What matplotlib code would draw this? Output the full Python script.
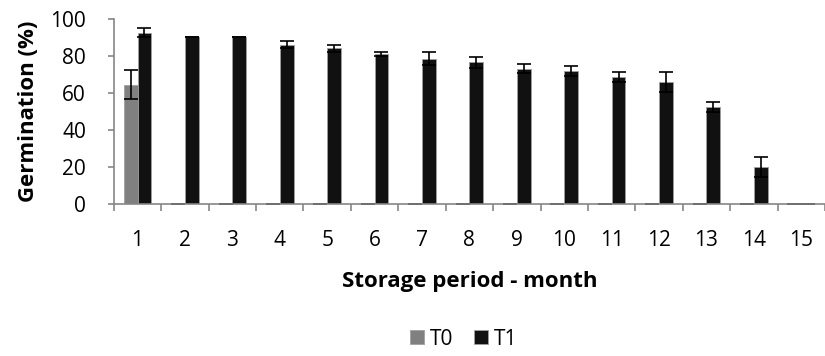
import matplotlib
matplotlib.use("Agg")
import matplotlib.pyplot as plt
import numpy as np

months = [str(i) for i in range(1, 16)]
t0_vals = [64.5, 0, 0, 0, 0, 0, 0, 0, 0, 0, 0, 0, 0, 0, 0]
t0_err = [8, 0, 0, 0, 0, 0, 0, 0, 0, 0, 0, 0, 0, 0, 0]
t1_vals = [92.5, 90, 90, 86, 84, 81, 78.5, 76.5, 73, 72, 68.5, 66, 52.5, 20, 0]
t1_err = [2.5, 0, 0, 2, 2, 1.3, 3.5, 3, 2.5, 2.8, 2.8, 5.5, 2.8, 5.5, 0]
series_names = ["T0", "T1"]
yticks = [0, 20, 40, 60, 80, 100]

plt.rcParams['font.family'] = ['Open Sans', 'DejaVu Sans']

fig = plt.figure(figsize=(8.25, 3.56), dpi=100)
ax = fig.add_axes([0.138, 0.427, 0.862, 0.52])

x = np.arange(len(months))
w = 0.29
axis_col = '#868686'
ax.bar(x - w/2, t0_vals, w, color='#808080', edgecolor='#a0a0a0', linewidth=0.6, label=series_names[0])
ax.bar(x + w/2, t1_vals, w, color='#111111', edgecolor='#a0a0a0', linewidth=0.6, label=series_names[1])
ax.errorbar(x - w/2, t0_vals, yerr=t0_err, fmt='none', ecolor='black', elinewidth=1.2, capsize=5, capthick=1.2)
ax.errorbar(x + w/2, t1_vals, yerr=t1_err, fmt='none', ecolor='black', elinewidth=1.2, capsize=5, capthick=1.2)

ax.set_xlim(-0.5, len(months) - 0.5)
ax.set_ylim(0, 100)
ax.set_yticks(yticks)
ax.set_yticklabels([str(v) for v in yticks], fontsize=15)
ax.set_xticks(x)
ax.set_xticklabels(months, fontsize=15)
ax.tick_params(axis='x', length=0, pad=19)
ax.set_xticks(np.arange(-0.5, len(months), 1), minor=True)
ax.tick_params(axis='x', which='minor', length=5, color=axis_col, width=1.2)
ax.tick_params(axis='y', length=4, color=axis_col, width=1.2, pad=16)
for s in ['top', 'right']:
    ax.spines[s].set_visible(False)
for s in ['left', 'bottom']:
    ax.spines[s].set_color(axis_col)
    ax.spines[s].set_linewidth(1.2)

ax.set_ylabel('Germination (%)', fontsize=16, fontweight='bold', labelpad=8)
ax.set_xlabel('Storage period - month', fontsize=16, fontweight='bold', labelpad=14)

fig.legend(loc='lower center', bbox_to_anchor=(0.562, -0.035), ncol=2, frameon=False,
           fontsize=15, handlelength=0.65, handleheight=0.65, handletextpad=0.3, columnspacing=1.0)

fig.savefig('out.png', dpi=100)
